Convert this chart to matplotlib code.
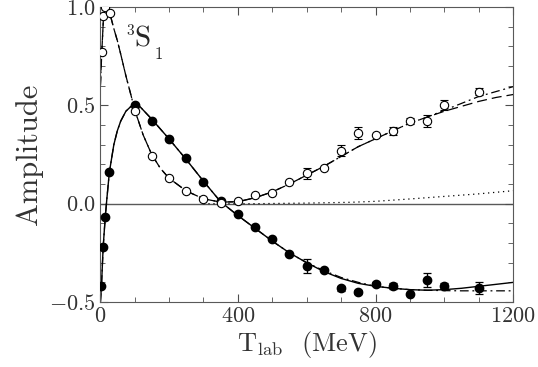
import numpy as np
import matplotlib
matplotlib.use("Agg")
import matplotlib.pyplot as plt
from matplotlib.ticker import MultipleLocator

plt.rcParams['font.family'] = ['cmr10', 'DejaVu Serif']
plt.rcParams['mathtext.fontset'] = 'cm'
plt.rcParams['axes.formatter.use_mathtext'] = True

# filled points (one amplitude part), with error bars
t_fill = [4, 9, 15, 27, 100, 150, 200, 250, 300, 350, 400, 450, 500, 550,
          600, 650, 700, 750, 800, 850, 900, 950, 1000, 1100]
a_fill = [-0.42, -0.22, -0.07, 0.16, 0.50, 0.42, 0.33, 0.23, 0.11, 0.012, -0.05, -0.12,
          -0.18, -0.257, -0.317, -0.337, -0.43, -0.45, -0.41, -0.42, -0.457, -0.388, -0.42, -0.427]
e_fill = [0, 0, 0, 0, 0, 0, 0, 0, 0, 0, 0, 0, 0, 0,
          0.035, 0, 0.012, 0.01, 0.01, 0.015, 0, 0.035, 0.015, 0.03]

# open points (other amplitude part)
t_open = [5, 9, 14, 28, 100, 150, 200, 250, 300, 350, 400, 450, 500, 550,
          600, 650, 700, 750, 800, 850, 900, 950, 1000, 1100]
a_open = [0.77, 0.955, 1.0, 0.97, 0.47, 0.243, 0.129, 0.065, 0.022, 0.006, 0.012, 0.044,
          0.053, 0.11, 0.154, 0.18, 0.27, 0.36, 0.35, 0.37, 0.42, 0.42, 0.50, 0.57]
e_open = [0, 0, 0, 0, 0, 0, 0, 0, 0, 0, 0, 0, 0, 0,
          0.028, 0, 0.03, 0.03, 0, 0.02, 0.015, 0.03, 0.025, 0.02]

# fit curves
t_c1 = [1, 4, 9, 15, 20, 27, 40, 50, 60, 75, 90, 100, 115, 150, 200, 250, 300, 350,
        400, 450, 500, 550, 600, 650, 700, 750, 800, 850, 900, 950, 1000, 1050, 1100, 1150, 1200]
solid = [-0.5, -0.42, -0.22, -0.07, 0.03, 0.16, 0.30, 0.37, 0.42, 0.47, 0.495, 0.50, 0.495,
         0.43, 0.33, 0.225, 0.115, 0.01, -0.06, -0.125, -0.19, -0.25, -0.30, -0.345, -0.38,
         -0.405, -0.42, -0.43, -0.437, -0.44, -0.437, -0.43, -0.42, -0.41, -0.40]
dashdot_f = [-0.5, -0.42, -0.22, -0.07, 0.03, 0.16, 0.30, 0.37, 0.42, 0.47, 0.495, 0.50, 0.495,
             0.43, 0.33, 0.225, 0.115, 0.01, -0.06, -0.125, -0.19, -0.25, -0.30, -0.34, -0.375,
             -0.40, -0.42, -0.43, -0.437, -0.44, -0.442, -0.443, -0.443, -0.443, -0.443]

t_c2 = [1, 5, 10, 15, 20, 28, 40, 50, 60, 75, 90, 100, 125, 150, 175, 200, 250, 300, 350,
        400, 450, 500, 550, 600, 650, 700, 750, 800, 850, 900, 950, 1000, 1050, 1100, 1150, 1200]
dashed = [0.6, 0.77, 0.95, 1.0, 1.0, 0.97, 0.89, 0.83, 0.76, 0.65, 0.55, 0.48, 0.35, 0.25,
          0.18, 0.13, 0.065, 0.025, 0.008, 0.01, 0.03, 0.06, 0.10, 0.145, 0.19, 0.24, 0.29,
          0.33, 0.37, 0.41, 0.44, 0.47, 0.495, 0.52, 0.54, 0.555]
dashdot_o = [0.6, 0.77, 0.95, 1.0, 1.0, 0.97, 0.89, 0.83, 0.76, 0.65, 0.55, 0.48, 0.35, 0.25,
             0.18, 0.13, 0.065, 0.025, 0.008, 0.01, 0.03, 0.06, 0.10, 0.145, 0.19, 0.24, 0.29,
             0.33, 0.37, 0.41, 0.44, 0.475, 0.51, 0.545, 0.57, 0.595]

t_dot = [300, 450, 600, 726, 800, 900, 1000, 1100, 1200]
dotted = [0.0, 0.0, 0.003, 0.007, 0.012, 0.024, 0.037, 0.05, 0.066]

fig = plt.figure(figsize=(5.38, 3.67), dpi=100)
ax = fig.add_axes([0.186, 0.177, 0.768, 0.804])

ax.axhline(0, color='0.35', lw=1.0, zorder=1)
ax.plot(t_c1, solid, color='k', lw=1.0)
ax.plot(t_c1, dashdot_f, color='k', lw=0.9, dashes=[7, 3, 1.5, 3])
ax.plot(t_c2, dashed, color='k', lw=0.9, dashes=[8, 4])
ax.plot(t_c2, dashdot_o, color='k', lw=0.9, dashes=[7, 3, 1.5, 3])
ax.plot(t_dot, dotted, color='k', lw=0.9, dashes=[1, 3])

ef = np.array(e_fill)
eo = np.array(e_open)
ax.errorbar(t_fill, a_fill, yerr=np.where(ef > 0, ef, np.nan), fmt='o', color='k', ms=6,
            elinewidth=0.9, capsize=3, capthick=0.9, zorder=3)
ax.errorbar(t_open, a_open, yerr=np.where(eo > 0, eo, np.nan), fmt='o', color='k', mfc='white',
            ms=6, mew=0.8, elinewidth=0.9, capsize=3, capthick=0.9, zorder=3)

# 3S1 label, built from pieces so the subscript sits low like the original
ax.text(77, 0.857, '3', fontsize=11, va='baseline', color='0.15')
ax.text(101, 0.797, 'S', fontsize=21, va='baseline', color='0.15')
ax.text(159, 0.735, '1', fontsize=12, va='baseline', color='0.15')

ax.set_xlim(0, 1200)
ax.set_ylim(-0.5, 1.0)
ax.xaxis.set_major_locator(MultipleLocator(400))
ax.xaxis.set_minor_locator(MultipleLocator(100))
ax.yaxis.set_major_locator(MultipleLocator(0.5))
ax.yaxis.set_minor_locator(MultipleLocator(0.1))
ax.tick_params(which='both', direction='in', top=True, right=True, colors='0.3',
               labelcolor='0.2', labelsize=16)
ax.tick_params(which='major', length=6)
ax.tick_params(which='minor', length=3.5)
for s in ax.spines.values():
    s.set_color('0.35')

ax.set_xlabel(r'T$_{\rm lab}$  (MeV)', fontsize=19, color='0.2', labelpad=2)
ax.set_ylabel('Amplitude', fontsize=22, color='0.2', labelpad=4)

fig.savefig('out.png', dpi=100)
